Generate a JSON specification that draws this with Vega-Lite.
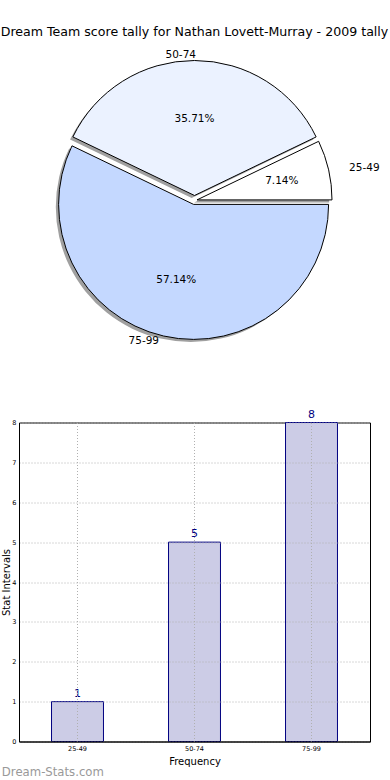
{
  "$schema": "https://vega.github.io/schema/vega-lite/v6.json",
  "padding": {"top": 25, "left": 0, "right": 0, "bottom": 0},
  "bounds": "flush",
  "spacing": 70.5,
  "config": {"font": "DejaVu Sans", "view": {"stroke": null}},
  "datasets": {
    "tally": [
      {"range": "25-49", "count": 1, "pct": "7.14%"},
      {"range": "50-74", "count": 5, "pct": "35.71%"},
      {"range": "75-99", "count": 8, "pct": "57.14%"}
    ]
  },
  "vconcat": [
    {
      "width": 351,
      "height": 303,
      "data": {"name": "tally"},
      "title": {"text": "Dream Team score tally for Nathan Lovett-Murray - 2009 tally", "fontSize": 12.6, "fontWeight": "normal", "color": "black", "anchor": "middle", "offset": 3},
      "layer": [
        {"mark": {"type": "arc", "fill": "#a0a0a0", "radius": 135, "xOffset": -0.3, "yOffset": 2.0},
         "encoding": {"theta": {"field": "count", "type": "quantitative", "stack": true, "scale": {"domain": [0, 14], "range": [1.5707963, -4.712389]}}, "order": {"field": "range", "type": "ordinal"},
           "opacity": {"condition": {"test": "datum.range === '25-49'", "value": 1}, "value": 0}}},
        {"mark": {"type": "arc", "fill": "#a0a0a0", "radius": 135, "xOffset": -2.8, "yOffset": -2.4},
         "encoding": {"theta": {"field": "count", "type": "quantitative", "stack": true}, "order": {"field": "range", "type": "ordinal"},
           "opacity": {"condition": {"test": "datum.range === '50-74'", "value": 1}, "value": 0}}},
        {"mark": {"type": "arc", "fill": "#a0a0a0", "radius": 135, "xOffset": -3.7, "yOffset": 6.5},
         "encoding": {"theta": {"field": "count", "type": "quantitative", "stack": true}, "order": {"field": "range", "type": "ordinal"},
           "opacity": {"condition": {"test": "datum.range === '75-99'", "value": 1}, "value": 0}}},
        {"mark": {"type": "arc", "fill": "#FFFFFF", "stroke": "black", "strokeWidth": 1, "radius": 135, "xOffset": 2.5, "yOffset": -0.6},
         "encoding": {"theta": {"field": "count", "type": "quantitative", "stack": true}, "order": {"field": "range", "type": "ordinal"},
           "opacity": {"condition": {"test": "datum.range === '25-49'", "value": 1}, "value": 0}}},
        {"mark": {"type": "arc", "fill": "#EBF2FF", "stroke": "black", "strokeWidth": 1, "radius": 135, "xOffset": 0, "yOffset": -5},
         "encoding": {"theta": {"field": "count", "type": "quantitative", "stack": true}, "order": {"field": "range", "type": "ordinal"},
           "opacity": {"condition": {"test": "datum.range === '50-74'", "value": 1}, "value": 0}}},
        {"mark": {"type": "arc", "fill": "#C4D8FF", "stroke": "black", "strokeWidth": 1, "radius": 135, "xOffset": -0.9, "yOffset": 3.9},
         "encoding": {"theta": {"field": "count", "type": "quantitative", "stack": true}, "order": {"field": "range", "type": "ordinal"},
           "opacity": {"condition": {"test": "datum.range === '75-99'", "value": 1}, "value": 0}}},
        {"mark": {"type": "text", "radius": 87, "xOffset": 2.5, "yOffset": -0.6, "fontSize": 10.5, "color": "black", "align": "center", "baseline": "middle"},
         "encoding": {"theta": {"field": "count", "type": "quantitative", "stack": true}, "order": {"field": "range", "type": "ordinal"}, "text": {"field": "pct"},
           "opacity": {"condition": {"test": "datum.range === '25-49'", "value": 1}, "value": 0}}},
        {"mark": {"type": "text", "radius": 77, "xOffset": 0, "yOffset": -5, "fontSize": 10.5, "color": "black", "align": "center", "baseline": "middle"},
         "encoding": {"theta": {"field": "count", "type": "quantitative", "stack": true}, "order": {"field": "range", "type": "ordinal"}, "text": {"field": "pct"},
           "opacity": {"condition": {"test": "datum.range === '50-74'", "value": 1}, "value": 0}}},
        {"mark": {"type": "text", "radius": 78, "xOffset": -0.9, "yOffset": 3.9, "fontSize": 10.5, "color": "black", "align": "center", "baseline": "middle"},
         "encoding": {"theta": {"field": "count", "type": "quantitative", "stack": true}, "order": {"field": "range", "type": "ordinal"}, "text": {"field": "pct"},
           "opacity": {"condition": {"test": "datum.range === '75-99'", "value": 1}, "value": 0}}},
        {"mark": {"type": "text", "radius": 156, "xOffset": 2.5, "yOffset": 2, "fontSize": 10.5, "color": "black", "align": "left", "baseline": "middle"},
         "encoding": {"theta": {"field": "count", "type": "quantitative", "stack": true}, "order": {"field": "range", "type": "ordinal"}, "text": {"field": "range"},
           "opacity": {"condition": {"test": "datum.range === '25-49'", "value": 1}, "value": 0}}},
        {"mark": {"type": "text", "radius": 141, "xOffset": 1.5, "yOffset": -5, "fontSize": 10.5, "color": "black", "align": "right", "baseline": "middle"},
         "encoding": {"theta": {"field": "count", "type": "quantitative", "stack": true}, "order": {"field": "range", "type": "ordinal"}, "text": {"field": "range"},
           "opacity": {"condition": {"test": "datum.range === '50-74'", "value": 1}, "value": 0}}},
        {"mark": {"type": "text", "radius": 140, "xOffset": -4.3, "yOffset": 3.9, "fontSize": 10.5, "color": "black", "align": "right", "baseline": "middle"},
         "encoding": {"theta": {"field": "count", "type": "quantitative", "stack": true}, "order": {"field": "range", "type": "ordinal"}, "text": {"field": "range"},
           "opacity": {"condition": {"test": "datum.range === '75-99'", "value": 1}, "value": 0}}}
      ]
    },
    {
      "width": 351,
      "height": 319,
      "data": {"name": "tally"},
      "view": {"stroke": "black", "strokeWidth": 1},
      "title": {"text": "Dream-Stats.com", "orient": "bottom", "anchor": "start", "frame": "bounds", "fontSize": 11.7, "fontWeight": "normal", "color": "#999999", "offset": 1},
      "encoding": {
        "x": {"field": "range", "type": "nominal", "sort": null,
          "scale": {"paddingInner": 0.556, "paddingOuter": 0.278},
          "axis": {"title": "Frequency", "titleFontSize": 10, "titleFontWeight": "normal", "titleColor": "black", "titlePadding": 4,
            "labelFontSize": 6.5, "labelColor": "black", "labelAngle": 0, "labelPadding": 4, "tickSize": 0,
            "domainColor": "black", "grid": true, "gridColor": "#b0b0b0", "gridDash": [1, 2], "zindex": 1}},
        "y": {"field": "count", "type": "quantitative",
          "scale": {"domain": [0, 8], "nice": false},
          "axis": {"title": "Stat Intervals", "titleFontSize": 10, "titleFontWeight": "normal", "titleColor": "black", "titlePadding": 0,
            "labelFontSize": 6.5, "labelColor": "black", "labelPadding": 3, "tickSize": 0, "values": [0, 1, 2, 3, 4, 5, 6, 7, 8],
            "domainColor": "black", "grid": true, "gridColor": "#b0b0b0", "gridDash": [1, 2], "zindex": 1}}
      },
      "layer": [
        {"mark": {"type": "bar", "fill": "#CCCCE6", "stroke": "#000080", "strokeWidth": 1}},
        {"mark": {"type": "text", "color": "#000080", "fontSize": 11, "baseline": "bottom", "dy": -3}, "encoding": {"text": {"field": "count", "type": "quantitative"}}}
      ]
    }
  ]
}
